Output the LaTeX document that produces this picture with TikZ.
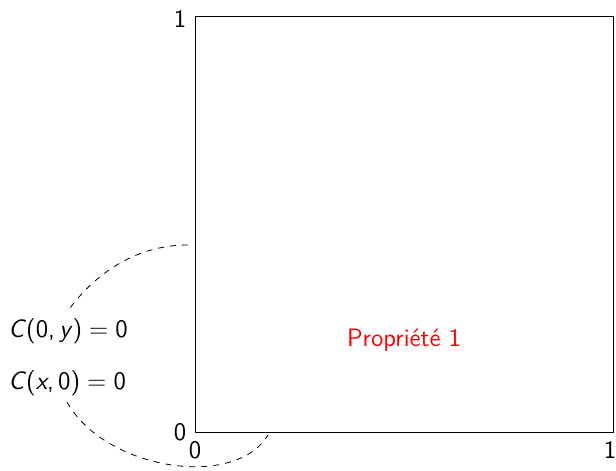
\documentclass[tikz,border=0pt]{standalone}
\usepackage{fontspec}
\begin{document}
\begin{tikzpicture}[x=0.5pt,y=-0.5pt,
  every node/.style={font=\sffamily\fontsize{12.6}{15}\selectfont},
  lbl/.style={inner sep=0pt},
  link/.style={dashed, line width=0.4pt}]
\useasboundingbox (0,0) rectangle (616,471);
\node[draw, line width=0.55pt, minimum width=209pt, minimum height=208pt, inner sep=0pt, anchor=south west] (sq) at (195,433) {};
\node[lbl] (y1) at (180,19) {1};
\node[lbl] (y0) at (180,432) {0};
\node[lbl] (x0) at (195,450) {0};
\node[lbl] (x1) at (610,450) {1};
\node[lbl, anchor=west] (c1) at (8,331) {\textit{C}(0,\hspace{0.17em}\textit{y})\hspace{0.28em}=\hspace{0.28em}0};
\node[lbl, anchor=west] (c2) at (8,383) {\textit{C}(\textit{x},\hspace{0.17em}0)\hspace{0.28em}=\hspace{0.28em}0};
\node[lbl, text=red] (p1) at (404,340) {Propriété 1};
\coordinate (a1) at (188,245);
\coordinate (a2) at (268,435);
\coordinate (e1) at ([yshift=3pt]c1.north -| 67,0);
\coordinate (e2) at ([yshift=-3pt]c2.south -| 67,0);
\draw[link] (a1) .. controls (130,245) and (90,280) .. (e1);
\draw[link] (e2) .. controls (105,470) and (235,490) .. (a2);
\end{tikzpicture}
\end{document}
